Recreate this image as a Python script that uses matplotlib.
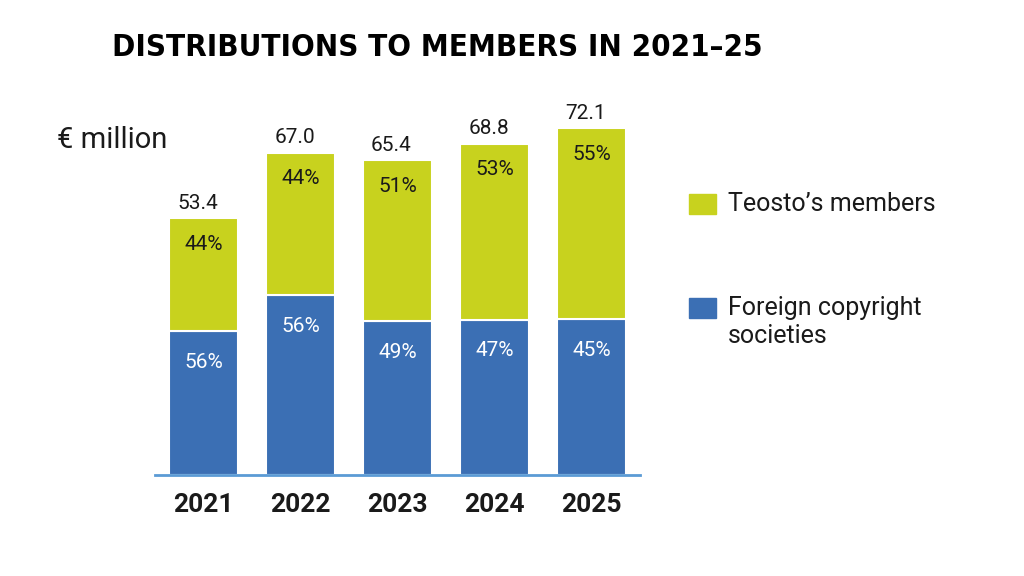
import matplotlib
matplotlib.use("Agg")
import matplotlib.pyplot as plt
from matplotlib.patches import Rectangle

years = ["2021", "2022", "2023", "2024", "2025"]
totals = [53.4, 67.0, 65.4, 68.8, 72.1]
foreign = [29.9, 37.3, 32.0, 32.3, 32.4]
members = [23.5, 29.7, 33.4, 36.5, 39.7]
foreign_pct = ["56%", "56%", "49%", "47%", "45%"]
members_pct = ["44%", "44%", "51%", "53%", "55%"]

LIME = "#C8D21E"
BLUE = "#3B6FB4"
AXIS = "#5B9BD5"
TXT = "#1a1a1a"

plt.rcParams['font.family'] = ['Roboto', 'DejaVu Sans']

fig = plt.figure(figsize=(10.24, 5.76), dpi=100)
ax = fig.add_axes([155/1024, 1 - 475/576, 485/1024, 385/576])

x = list(range(len(years)))
ax.bar(x, foreign, width=0.72, color=BLUE, edgecolor="white", linewidth=1.5)
ax.bar(x, members, width=0.72, bottom=foreign, color=LIME, edgecolor="white", linewidth=1.5)

for i in x:
    ax.annotate(foreign_pct[i], (i, foreign[i]), xytext=(0, -31), textcoords="offset pixels",
                ha="center", va="center", color="white", fontsize=15)
    ax.annotate(members_pct[i], (i, totals[i]), xytext=(0, -26), textcoords="offset pixels",
                ha="center", va="center", color=TXT, fontsize=15)
    ax.annotate(f"{totals[i]:.1f}", (i, totals[i]), xytext=(-6, 15), textcoords="offset pixels",
                ha="center", va="center", color=TXT, fontsize=15)

ax.set_xlim(-0.5, 4.5)
ax.set_ylim(0, 80)
for s in ["top", "right", "left"]:
    ax.spines[s].set_visible(False)
ax.spines["bottom"].set_color(AXIS)
ax.spines["bottom"].set_linewidth(2)
ax.set_yticks([])
ax.set_xticks(x)
ax.set_xticklabels(years, fontsize=19, fontweight="bold", color=TXT)
ax.tick_params(axis="x", length=0, pad=13)

title = fig.text(112/1024, 1 - 47/576, "DISTRIBUTIONS TO MEMBERS IN 2021–25",
                 fontsize=30, fontweight="bold", fontstretch="condensed",
                 family=['DejaVu Sans'], ha="left", va="center", color="black")
# fit title to the reference width (about 648 px)
renderer = fig.canvas.get_renderer()
w = title.get_window_extent(renderer).width
title.set_fontsize(30 * 648 / w)

fig.text(57/1024, 1 - 140/576, "€ million", fontsize=21, ha="left", va="center", color=TXT)

# legend
fig.patches.append(Rectangle((689/1024, 1 - 214/576), 27/1024, 20/576,
                             transform=fig.transFigure, color=LIME))
fig.text(728/1024, 1 - 204/576, "Teosto’s members", fontsize=18, ha="left", va="center", color=TXT)
fig.patches.append(Rectangle((689/1024, 1 - 318/576), 27/1024, 20/576,
                             transform=fig.transFigure, color=BLUE))
fig.text(728/1024, 1 - 322/576, "Foreign copyright\nsocieties", fontsize=18, ha="left", va="center",
         color=TXT, linespacing=1.25)

fig.savefig("out.png", dpi=100, facecolor="white")
